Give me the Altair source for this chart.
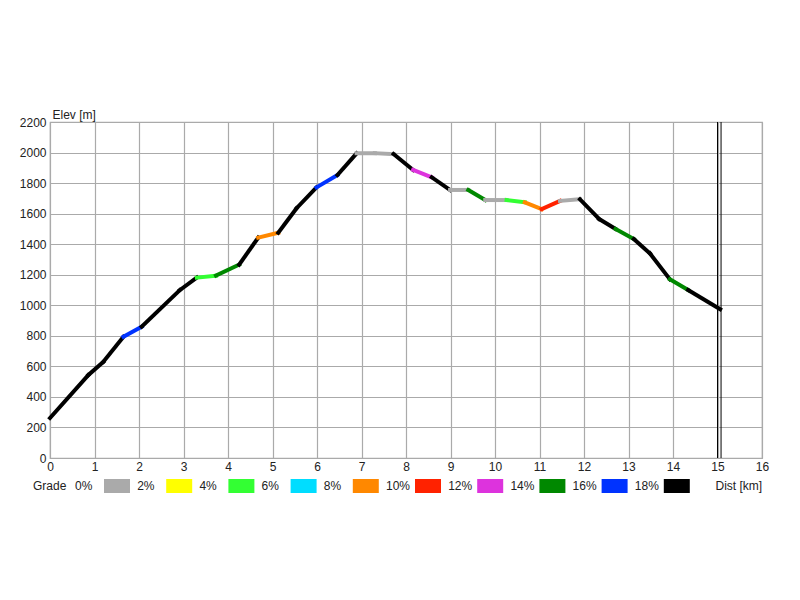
import altair as alt
import pandas as pd

# ---- data ----
dist = [0.00, 0.86, 1.20, 1.65, 2.06, 2.92, 3.30, 3.73, 4.25, 4.68, 5.13, 5.54, 5.99,
        6.46, 6.89, 7.30, 7.72, 8.16, 8.58, 8.99, 9.40, 9.78, 10.26, 10.67, 11.05,
        11.46, 11.91, 12.34, 12.71, 13.12, 13.48, 13.93, 14.34, 15.06]
elev = [262, 543, 630, 794, 860, 1100, 1181, 1194, 1266, 1443, 1475, 1635, 1772,
        1853, 1995, 1996, 1990, 1886, 1838, 1755, 1755, 1689, 1689, 1674, 1630,
        1683, 1694, 1565, 1500, 1434, 1340, 1170, 1100, 974]
# grade class of each segment (index into grade_labels)
seg_class = [9, 9, 9, 8, 9, 9, 2, 7, 9, 4, 9, 9, 8, 9, 0, 0, 9, 6, 9, 0, 7, 0, 2,
             4, 5, 0, 9, 9, 7, 9, 9, 7, 9]

grade_labels = ["0%", "2%", "4%", "6%", "8%", "10%", "12%", "14%", "16%", "18%"]
grade_colors = ["#AAAAAA", "#FFFF00", "#33FF33", "#00DDFF", "#FF8800",
                "#FF2200", "#DD33DD", "#008800", "#0033FF", "#000000"]
marker_km = [15.0, 15.08]
x_ticks = list(range(0, 17))
y_ticks = list(range(0, 2201, 200))

# ---- layout (pixels) ----
W, H = 712, 336
KM_PX = W / 16.0


def px_to_km(px):
    return px / KM_PX


segs = pd.DataFrame({
    "d0": dist[:-1], "e0": elev[:-1], "d1": dist[1:], "e1": elev[1:],
    "grade": [grade_labels[c] for c in seg_class],
})

color_scale = alt.Scale(domain=grade_labels, range=grade_colors)
xscale = alt.Scale(domain=[0, 16], nice=False, zero=True)
yscale = alt.Scale(domain=[0, 2200], nice=False)

FONT = "Liberation Sans"
TXT = "#222"

profile = alt.Chart(segs).mark_rule(strokeWidth=4, strokeCap="square").encode(
    x=alt.X("d0:Q", scale=xscale,
            axis=alt.Axis(values=x_ticks, title="Dist [km]", grid=True, format="d",
                          gridColor="#AAAAAA", gridWidth=1.2, ticks=False,
                          domain=False, labelPadding=3, labelFontSize=12,
                          labelFlush=False, labelOverlap=False,
                          labelFont=FONT, labelColor=TXT,
                          titleFont=FONT, titleFontSize=12, titleFontWeight="normal",
                          titleColor=TXT, titleX=665, titleY=27,
                          titleAlign="left", titleBaseline="middle")),
    x2="d1:Q",
    y=alt.Y("e0:Q", scale=yscale,
            axis=alt.Axis(values=y_ticks, title="Elev [m]", grid=True, format="d",
                          gridColor="#AAAAAA", gridWidth=1.2, ticks=False,
                          domain=False, labelPadding=4, labelFontSize=12,
                          labelFlush=False, labelOverlap=False,
                          labelFont=FONT, labelColor=TXT,
                          titleFont=FONT, titleFontSize=12, titleFontWeight="normal",
                          titleColor=TXT, titleAngle=0, titleX=2, titleY=-8,
                          titleAlign="left", titleBaseline="middle")),
    y2="e1:Q",
    color=alt.Color("grade:N", scale=color_scale, legend=None),
)

markers = alt.Chart(pd.DataFrame({"km": marker_km})).mark_rule(
    color="black", strokeWidth=1).encode(
    x=alt.X("km:Q", scale=xscale), y=alt.value(0), y2=alt.value(H))

# ---- custom legend row: "Grade 0% [ ] 2% [ ] ..." ----
STEP = 62.2
leg_sw = pd.DataFrame({
    "grade": grade_labels,
    "l": [px_to_km(54 + STEP * i) for i in range(10)],
    "r": [px_to_km(54 + 26 + STEP * i) for i in range(10)],
})
leg_txt = pd.DataFrame({
    "txt": ["Grade"] + grade_labels,
    "x": [px_to_km(-17)] + [px_to_km(25 + STEP * i) for i in range(10)],
})

swatches = alt.Chart(leg_sw).mark_rect().encode(
    x=alt.X("l:Q", scale=xscale), x2="r:Q",
    y=alt.value(357), y2=alt.value(371),
    color=alt.Color("grade:N", scale=color_scale, legend=None),
)
texts = alt.Chart(leg_txt).mark_text(
    align="left", baseline="middle", font=FONT, fontSize=12, color=TXT).encode(
    x=alt.X("x:Q", scale=xscale), y=alt.value(364), text="txt:N")

chart = alt.layer(profile, markers, swatches, texts).properties(
    width=W, height=H,
    autosize=alt.AutoSizeParams(type="none"),
    padding={"left": 42, "top": 114, "right": 30, "bottom": 120},
    background="white",
).configure_view(stroke="#AAAAAA", strokeWidth=1.2)

chart.save("out.html", embed_options={"renderer": "svg", "actions": False})
